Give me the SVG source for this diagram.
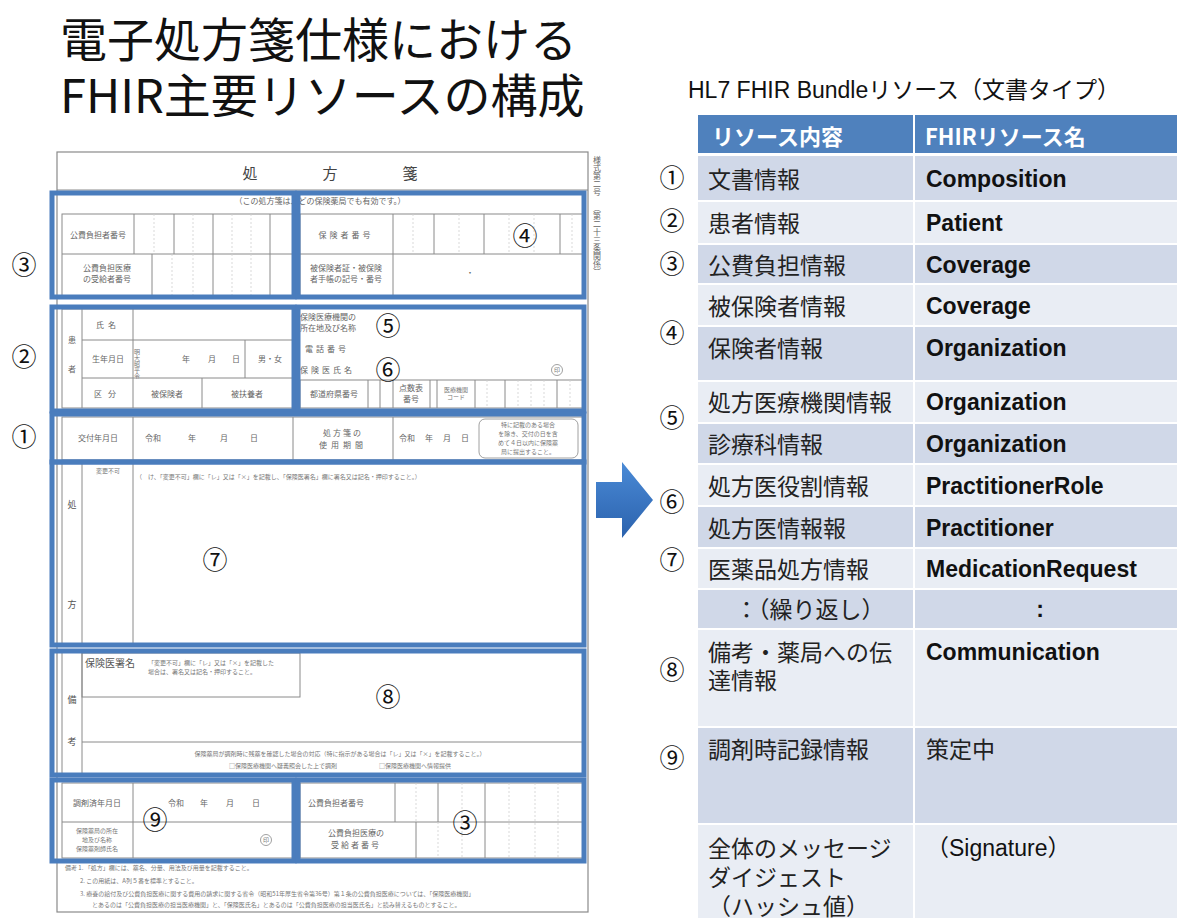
<svg xmlns="http://www.w3.org/2000/svg" width="1177" height="918" viewBox="0 0 1177 918">
<defs>
<linearGradient id="ag" x1="0" y1="0" x2="0" y2="1"><stop offset="0" stop-color="#4a8ad6"/><stop offset="1" stop-color="#2b62ad"/></linearGradient>
<style>
.title{font-family:"Noto Sans CJK JP",sans-serif;font-size:47px;fill:#111}
.cap{font-family:"Liberation Sans","Noto Sans CJK JP",sans-serif;font-size:23px;fill:#111}
.hd{font-family:"Noto Sans CJK JP",sans-serif;font-size:22px;font-weight:bold;fill:#fff}
.jp{font-family:"Noto Sans CJK JP",sans-serif;font-size:23px;fill:#222}
.en{font-family:"Liberation Sans","Noto Sans CJK JP",sans-serif;font-size:23px;font-weight:bold;fill:#111}
.enr{font-family:"Liberation Sans","Noto Sans CJK JP",sans-serif;font-size:23px;fill:#111}
.num{font-family:"Noto Sans CJK JP",sans-serif;font-size:25px;fill:#111;text-anchor:middle}
.dk{fill:#d0d8e8}.lt{fill:#e9edf4}.hdr{fill:#4f81bd}
.fl{fill:none;stroke:#8a8a8a;stroke-width:1}
.fd{fill:none;stroke:#cfcfcf;stroke-width:0.8;stroke-dasharray:2 2}
.bx{fill:none;stroke:#4a7dbd;stroke-width:5}
.ft{font-family:"Noto Sans CJK JP",sans-serif;font-size:8px;fill:#666}
.fm{font-family:"Noto Sans CJK JP",sans-serif;font-size:9px;fill:#555}
.fs{font-family:"Noto Sans CJK JP",sans-serif;font-size:6px;fill:#777}
.c{text-anchor:middle}
</style>
</defs>
<rect width="1177" height="918" fill="#fff"/>

<g id="title">
<text class="title" x="60" y="57">電子処方箋仕様における</text>
<text class="title" x="60" y="113">FHIR主要リソースの構成</text>
</g>

<g id="form">
<rect x="57" y="152" width="531" height="760" fill="#fff" stroke="#8a8a8a" stroke-width="1.2"/>
<line class="fl" x1="57" y1="190" x2="588" y2="190"/>
<text x="250" y="179" font-family="Noto Sans CJK JP,sans-serif" font-size="15" fill="#444" text-anchor="middle">処</text>
<text x="330" y="179" font-family="Noto Sans CJK JP,sans-serif" font-size="15" fill="#444" text-anchor="middle">方</text>
<text x="410" y="179" font-family="Noto Sans CJK JP,sans-serif" font-size="15" fill="#444" text-anchor="middle">箋</text>
<text class="ft c" x="320" y="204">（この処方箋は、どの保険薬局でも有効です。）</text>
<text class="ft" x="597" y="156" style="writing-mode:vertical-rl">様式第二号</text>
<text class="ft" x="597" y="204" style="writing-mode:vertical-rl">（第二十三条関係）</text>

<!-- top left table -->
<rect class="fl" x="62" y="214" width="231" height="82"/>
<line class="fl" x1="62" y1="254" x2="293" y2="254"/>
<path class="fl" d="M134 214V254M174 214V254M213 214V254M270 214V254M152 254V296M213 254V296M270 254V296"/>
<path class="fd" d="M154 214V254M193 214V254M232 214V254M251 214V254M172 254V296M193 254V296M232 254V296M251 254V296"/>
<text class="ft c" x="98" y="238">公費負担者番号</text>
<text class="ft c" x="107" y="271">公費負担医療</text>
<text class="ft c" x="107" y="282">の受給者番号</text>
<!-- top right table -->
<rect class="fl" x="300" y="214" width="283" height="82"/>
<line class="fl" x1="300" y1="254" x2="583" y2="254"/>
<path class="fl" d="M393 214V296M434 214V254M484 214V254M560 214V254"/>
<path class="fd" d="M413 214V254M459 214V254M509 214V254M534 214V254M572 214V254"/>
<text class="ft c" x="346" y="238" letter-spacing="3">保険者番号</text>
<text class="ft c" x="346" y="271">被保険者証・被保険</text>
<text class="ft c" x="346" y="282">者手帳の記号・番号</text>
<text class="ft c" x="470" y="276">・</text>

<!-- patient -->
<rect class="fl" x="62" y="309" width="231" height="99"/>
<path class="fl" d="M82 309V408M133 309V408M82 340H293M82 378H293M245 340V378M202 378V408"/>
<text class="ft c" x="72" y="343">患</text>
<text class="ft c" x="72" y="372">者</text>
<text class="ft c" x="108" y="328" letter-spacing="4">氏名</text>
<text class="ft c" x="108" y="362">生年月日</text>
<text class="fs" x="137" y="349" style="writing-mode:vertical-rl">明大昭平令</text>
<text class="ft" x="182" y="362">年</text>
<text class="ft" x="208" y="362">月</text>
<text class="ft" x="232" y="362">日</text>
<text class="ft c" x="270" y="362">男・女</text>
<text class="ft c" x="108" y="397" letter-spacing="6">区分</text>
<text class="ft c" x="167" y="397">被保険者</text>
<text class="ft c" x="247" y="397">被扶養者</text>

<!-- institution / doctor -->
<text class="ft" x="300" y="320">保険医療機関の</text>
<text class="ft" x="300" y="331">所在地及び名称</text>
<text class="ft" x="305" y="352" letter-spacing="3">電話番号</text>
<text class="ft" x="300" y="373" letter-spacing="3">保険医氏名</text>
<circle cx="557" cy="370" r="5.5" fill="none" stroke="#888" stroke-width="0.8"/>
<text class="fs c" x="557" y="372">印</text>
<rect class="fl" x="300" y="380" width="283" height="28"/>
<path class="fl" d="M368 380V408M380 380V408M393 380V408M430 380V408M437 380V408M475 380V408M505 380V408M557 380V408"/>
<path class="fd" d="M487 380V408M518 380V408M531 380V408M544 380V408M570 380V408"/>
<text class="ft c" x="334" y="397">都道府県番号</text>
<text class="ft c" x="411" y="391">点数表</text>
<text class="ft c" x="411" y="402">番号</text>
<text class="fs c" x="456" y="392">医療機関</text>
<text class="fs c" x="456" y="399">コード</text>

<!-- issue date -->
<rect class="fl" x="62" y="417" width="521" height="43"/>
<path class="fl" d="M133 417V460M293 417V460M393 417V460"/>
<text class="ft c" x="98" y="441">交付年月日</text>
<text class="ft" x="145" y="441">令和</text>
<text class="ft" x="188" y="441">年</text>
<text class="ft" x="220" y="441">月</text>
<text class="ft" x="250" y="441">日</text>
<text class="ft c" x="343" y="436" letter-spacing="2">処方箋の</text>
<text class="ft c" x="343" y="448" letter-spacing="4">使用期間</text>
<text class="ft" x="399" y="441">令和</text>
<text class="ft" x="425" y="441">年</text>
<text class="ft" x="443" y="441">月</text>
<text class="ft" x="461" y="441">日</text>
<rect x="479" y="419" width="99" height="39" rx="6" fill="none" stroke="#888" stroke-width="0.8"/>
<text class="fs c" x="528" y="427">特に記載のある場合</text>
<text class="fs c" x="528" y="436">を除き、交付の日を含</text>
<text class="fs c" x="528" y="445">めて４日以内に保険薬</text>
<text class="fs c" x="528" y="454">局に提出すること。</text>

<!-- prescription -->
<path class="fl" d="M62 462V645M82 462V645M133 462V645"/>
<text class="fm c" x="72" y="508">処</text>
<text class="fm c" x="72" y="608">方</text>
<text class="fs c" x="108" y="473">変更不可</text>
<text class="fs" x="136" y="479">（　け、「変更不可」欄に「レ」又は「×」を記載し、「保険医署名」欄に署名又は記名・押印すること。）</text>

<!-- remarks -->
<path class="fl" d="M62 650V776M82 650V776M82 742H583"/>
<rect class="fl" x="82" y="653" width="218" height="44"/>
<text class="fm c" x="72" y="703">備</text>
<text class="fm c" x="72" y="745">考</text>
<text x="85" y="667" font-family="Noto Sans CJK JP,sans-serif" font-size="10" fill="#555">保険医署名</text>
<text class="fs" x="148" y="665">「変更不可」欄に「レ」又は「×」を記載した</text>
<text class="fs" x="148" y="674">場合は、署名又は記名・押印すること。</text>
<text class="fs c" x="340" y="756">保険薬局が調剤時に残薬を確認した場合の対応（特に指示がある場合は「レ」又は「×」を記載すること。）</text>
<text class="fs c" x="340" y="768">□保険医療機関へ疑義照会した上で調剤　　　　　　　□保険医療機関へ情報提供</text>

<!-- dispensing -->
<rect class="fl" x="62" y="783" width="231" height="75"/>
<path class="fl" d="M62 822H293M133 783V858"/>
<text class="ft c" x="97" y="806">調剤済年月日</text>
<text class="ft" x="168" y="806">令和</text>
<text class="ft" x="200" y="806">年</text>
<text class="ft" x="226" y="806">月</text>
<text class="ft" x="252" y="806">日</text>
<text class="fs c" x="97" y="833">保険薬局の所在</text>
<text class="fs c" x="97" y="842">地及び名称</text>
<text class="fs c" x="97" y="851">保険薬剤師氏名</text>
<circle cx="266" cy="840" r="5.5" fill="none" stroke="#888" stroke-width="0.8"/>
<text class="fs c" x="266" y="842">印</text>
<rect class="fl" x="300" y="783" width="283" height="75"/>
<path class="fl" d="M300 822H583M395 783V822M438 783V822M485 783V858M416 822V858"/>
<path class="fd" d="M416 783V822M462 783V858M509 783V858M535 783V858M558 783V858M438 822V858"/>
<text class="ft c" x="336" y="806">公費負担者番号</text>
<text class="ft c" x="356" y="836">公費負担医療の</text>
<text class="ft c" x="356" y="848" letter-spacing="2">受給者番号</text>

<text class="fs" x="65" y="870">備考 1. 「処方」欄には、薬名、分量、用法及び用量を記載すること。</text>
<text class="fs" x="80" y="883">2. この用紙は、A列５番を標準とすること。</text>
<text class="fs" x="80" y="896">3. 療養の給付及び公費負担医療に関する費用の請求に関する省令（昭和51年厚生省令第36号）第１条の公費負担医療については、「保険医療機関」</text>
<text class="fs" x="92" y="907">とあるのは「公費負担医療の担当医療機関」と、「保険医氏名」とあるのは「公費負担医療の担当医氏名」と読み替えるものとすること。</text>
</g>

<g id="form-boxes">
<rect class="bx" x="52" y="193" width="242" height="104"/>
<rect class="bx" x="298" y="193" width="286" height="104"/>
<rect class="bx" x="52" y="307" width="242" height="104"/>
<rect class="bx" x="298" y="307" width="286" height="104"/>
<rect class="bx" x="52" y="414" width="532" height="48"/>
<rect class="bx" x="52" y="462" width="532" height="183"/>
<rect class="bx" x="52" y="651" width="532" height="124"/>
<rect class="bx" x="52" y="780" width="242" height="81"/>
<rect class="bx" x="298" y="780" width="286" height="81"/>
</g>

<g id="form-labels">
<text class="num" x="24" y="274">③</text>
<text class="num" x="24" y="366">②</text>
<text class="num" x="24" y="446">①</text>
<text class="num" x="525" y="245">④</text>
<text class="num" x="388" y="335">⑤</text>
<text class="num" x="388" y="379">⑥</text>
<text class="num" x="215" y="569">⑦</text>
<text class="num" x="388" y="706">⑧</text>
<text class="num" x="155" y="829">⑨</text>
<text class="num" x="465" y="832">③</text>
</g>

<g id="arrow">
<polygon points="596,482 622,482 622,462 653,500 622,538 622,518 596,518" fill="url(#ag)"/>
</g>

<g id="table">
<text class="cap" x="688" y="98">HL7 FHIR Bundleリソース（文書タイプ）</text>
<rect class="hdr" x="698" y="115" width="215" height="38"/>
<rect class="hdr" x="915" y="115" width="262" height="38"/>
<text class="hd" x="712" y="145">リソース内容</text>
<text class="hd" x="925" y="145">FHIRリソース名</text>

<rect class="dk" x="698" y="156" width="215" height="44"/><rect class="dk" x="915" y="156" width="262" height="44"/>
<rect class="lt" x="698" y="202" width="215" height="41"/><rect class="lt" x="915" y="202" width="262" height="41"/>
<rect class="dk" x="698" y="245" width="215" height="38"/><rect class="dk" x="915" y="245" width="262" height="38"/>
<rect class="lt" x="698" y="285" width="215" height="40"/><rect class="lt" x="915" y="285" width="262" height="40"/>
<rect class="dk" x="698" y="327" width="215" height="53"/><rect class="dk" x="915" y="327" width="262" height="53"/>
<rect class="lt" x="698" y="382" width="215" height="40"/><rect class="lt" x="915" y="382" width="262" height="40"/>
<rect class="dk" x="698" y="424" width="215" height="39"/><rect class="dk" x="915" y="424" width="262" height="39"/>
<rect class="lt" x="698" y="465" width="215" height="40"/><rect class="lt" x="915" y="465" width="262" height="40"/>
<rect class="dk" x="698" y="507" width="215" height="40"/><rect class="dk" x="915" y="507" width="262" height="40"/>
<rect class="lt" x="698" y="549" width="215" height="39"/><rect class="lt" x="915" y="549" width="262" height="39"/>
<rect class="dk" x="698" y="590" width="215" height="38"/><rect class="dk" x="915" y="590" width="262" height="38"/>
<rect class="lt" x="698" y="630" width="215" height="96"/><rect class="lt" x="915" y="630" width="262" height="96"/>
<rect class="dk" x="698" y="728" width="215" height="95"/><rect class="dk" x="915" y="728" width="262" height="95"/>
<rect class="lt" x="698" y="825" width="215" height="93"/><rect class="lt" x="915" y="825" width="262" height="93"/>

<text class="jp" x="708" y="188">文書情報</text><text class="en" x="926" y="187">Composition</text>
<text class="jp" x="708" y="232">患者情報</text><text class="en" x="926" y="231">Patient</text>
<text class="jp" x="708" y="274">公費負担情報</text><text class="en" x="926" y="273">Coverage</text>
<text class="jp" x="708" y="315">被保険者情報</text><text class="en" x="926" y="314">Coverage</text>
<text class="jp" x="708" y="357">保険者情報</text><text class="en" x="926" y="356">Organization</text>
<text class="jp" x="708" y="411">処方医療機関情報</text><text class="en" x="926" y="410">Organization</text>
<text class="jp" x="708" y="453">診療科情報</text><text class="en" x="926" y="452">Organization</text>
<text class="jp" x="708" y="495">処方医役割情報</text><text class="en" x="926" y="494">PractitionerRole</text>
<text class="jp" x="708" y="537">処方医情報報</text><text class="en" x="926" y="536">Practitioner</text>
<text class="jp" x="708" y="578">医薬品処方情報</text><text class="en" x="926" y="577">MedicationRequest</text>
<text class="jp" x="735" y="618">：（繰り返し）</text><text class="en" x="1040" y="617" text-anchor="middle">:</text>
<text class="jp" x="708" y="661">備考・薬局への伝</text>
<text class="jp" x="708" y="689">達情報</text><text class="en" x="926" y="660">Communication</text>
<text class="jp" x="708" y="758">調剤時記録情報</text><text class="jp" x="926" y="758">策定中</text>
<text class="jp" x="708" y="857">全体のメッセージ</text>
<text class="jp" x="708" y="886">ダイジェスト</text>
<text class="jp" x="708" y="915">（ハッシュ値）</text>
<text class="enr" x="926" y="856">（Signature）</text>

<text class="num" x="672" y="187">①</text>
<text class="num" x="672" y="230">②</text>
<text class="num" x="672" y="273">③</text>
<text class="num" x="672" y="342">④</text>
<text class="num" x="672" y="427">⑤</text>
<text class="num" x="672" y="511">⑥</text>
<text class="num" x="672" y="569">⑦</text>
<text class="num" x="672" y="679">⑧</text>
<text class="num" x="672" y="767">⑨</text>
</g>
</svg>
